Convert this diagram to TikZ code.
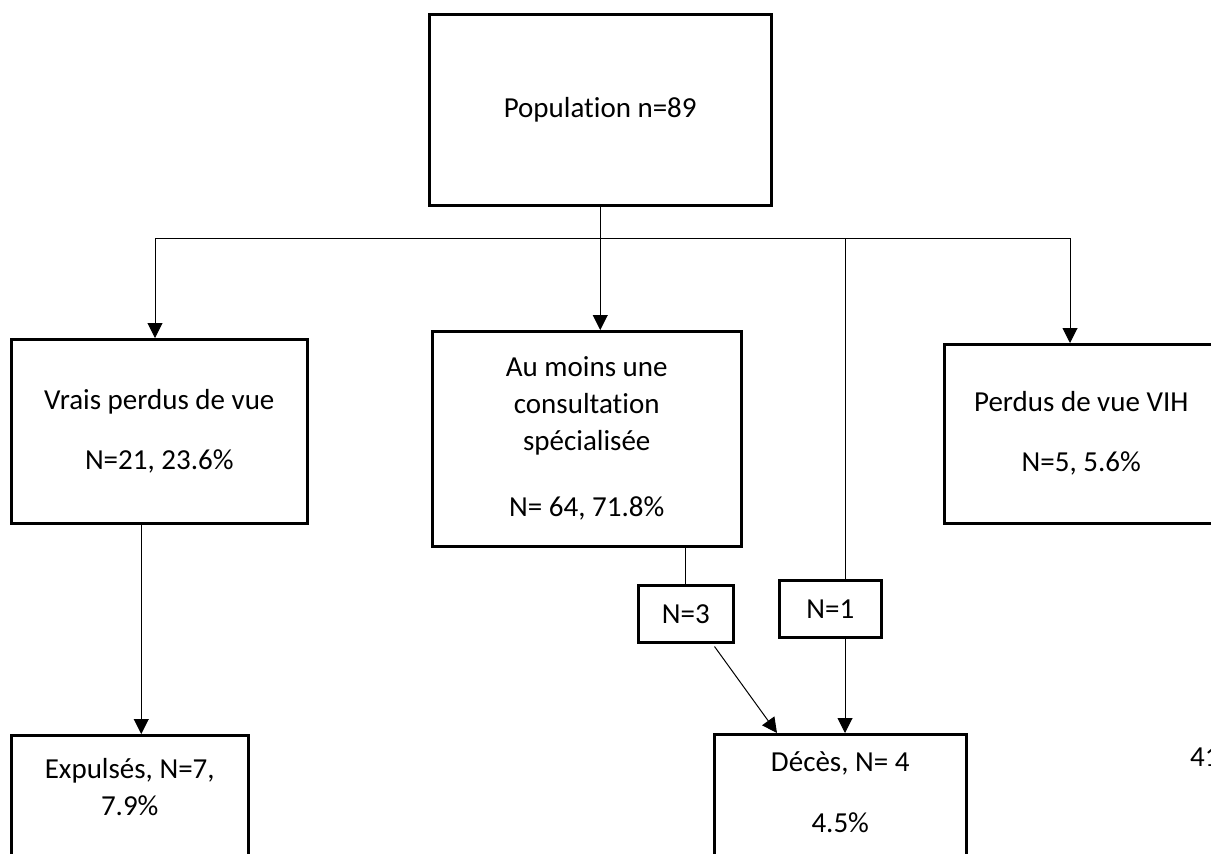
\documentclass[tikz,border=0pt]{standalone}
\usepackage{fontspec}
\setmainfont{Carlito}[Ligatures=NoCommon]
\usetikzlibrary{arrows.meta}
\usetikzlibrary{positioning}

\begin{document}
\begin{tikzpicture}[x=1pt,y=-1pt,
  every node/.style={font=\fontsize{29}{37}\selectfont,align=center,inner sep=0pt},
  box/.style={draw,line width=2.5pt,anchor=north west},
  link/.style={line width=1pt},
  arr/.style={link,-{Triangle[length=15pt,width=15pt]}}]
  \useasboundingbox (0,0) rectangle (1211,854);
  % boxes
  \node[box,minimum width=342pt,minimum height=191pt] (pop) at (428,13) {Population n=89};
  \node[box,minimum width=296pt,minimum height=184pt] (vrais) at (10,338) {Vrais perdus de vue\\[23pt]N=21, 23.6\%};
  \node[box,minimum width=309pt,minimum height=215pt] (consult) at (431,330) {Au moins une\\consultation\\spécialisée\\[29pt]N= 64, 71.8\%};
  \node[box,minimum width=274pt,minimum height=179pt] (perdus) at (943,343) {Perdus de vue VIH\\[23pt]N=5, 5.6\%};
  \node[box,minimum width=95pt,minimum height=57pt] (n3) at (637,584) {N=3};
  \node[box,minimum width=102pt,minimum height=57pt] (n1) at (778,579) {N=1};
  \node[box,minimum width=237pt,minimum height=170pt] (expul) at (10,734) {};
  \node (expultxt) at ([yshift=-53pt]expul.north) {Expulsés, N=7,\\7.9\%};
  \node[box,minimum width=252pt,minimum height=170pt] (deces) at (713,733) {};
  \node (decestxt) at ([yshift=-59pt]deces.north) {Décès, N= 4\\[24pt]4.5\%};
  \node[anchor=west] (pagenum) at (1190,757) {41};

  \coordinate (hl) at (155,238);
  \coordinate (hm) at (845,238);
  \coordinate (hr) at (1070,238);

  % connectors
  \draw[link] (hl) -- (hr);
  \draw[arr] (pop.south) -- (pop.south |- consult.north);
  \draw[arr] (hl) -- (hl |- vrais.north);
  \draw[arr] (hr) -- (hr |- perdus.north);
  \draw[link] (hm) -- (hm |- n1.north);
  \draw[link] (n3.north |- consult.south) -- (n3.north);
  \draw[arr] ([xshift=-20pt,yshift=-3pt]n3.south east) -- ([xshift=64pt]deces.north west);
  \draw[arr] (hm |- n1.south) -- (hm |- deces.north);
  \draw[arr] ([xshift=-18pt]vrais.south) -- ([xshift=-18pt]vrais.south |- expul.north);
\end{tikzpicture}
\end{document}
